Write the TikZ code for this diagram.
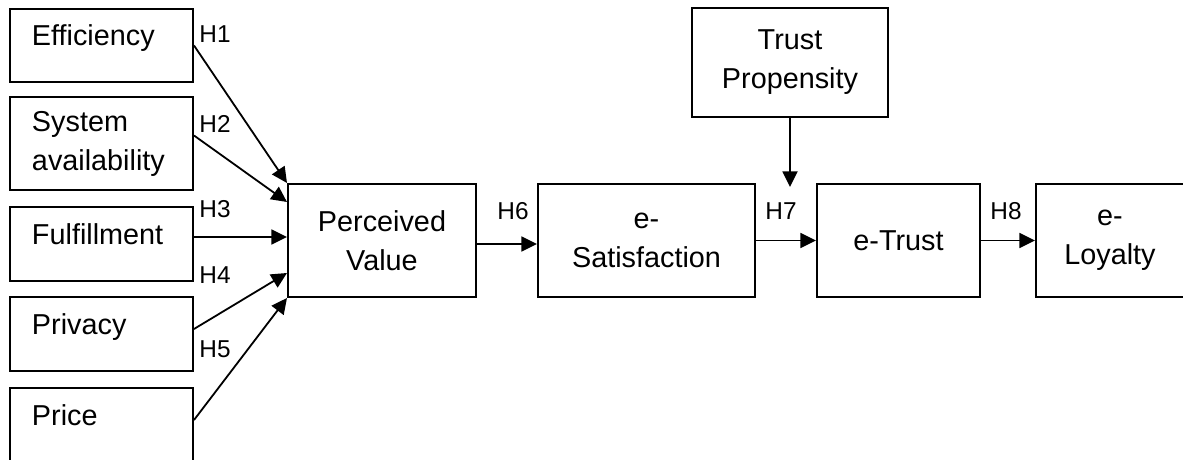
\documentclass[tikz,border=0pt]{standalone}
\usepackage{fontspec}
\setmainfont{Liberation Sans}
\usetikzlibrary{arrows.meta,positioning,calc}

\begin{document}
\begin{tikzpicture}[x=0.5pt,y=-0.5pt,
  box/.style={draw,line width=1pt,inner sep=0pt,font=\fontsize{14.4}{19.5}\selectfont},
  lbox/.style={box,text width=69.5pt,inner xsep=11pt,align=left},
  oneline/.style={text height=10pt,text depth=10pt},
  cbox/.style={box,align=center,minimum height=56.5pt},
  hyp/.style={font=\fontsize{12.2}{14}\selectfont,inner sep=0pt,anchor=base west},
  arr/.style={-{Triangle[length=7.8pt,width=7.5pt]},line width=0.9pt}]
\useasboundingbox (0,0) rectangle (1183,460);
% antecedents on the left
\node[lbox,oneline,minimum height=36.5pt] (eff) at (101.5,45.5) {Efficiency};
\node[lbox,minimum height=46.5pt] (sys) at (101.5,143.5) {System\\availability};
\node[lbox,oneline,minimum height=37pt] (ful) at (101.5,244) {Fulfillment};
\node[lbox,oneline,minimum height=37pt] (pri) at (101.5,334) {Privacy};
\node[lbox,oneline,minimum height=37pt] (prc) at (101.5,425) {Price};
% main chain
\node[cbox,minimum width=94pt] (pv) at (382,240.5) {Perceived\\Value};
\node[cbox,minimum width=108.5pt] (sat) at (646.5,240.5) {e-\\Satisfaction};
\node[cbox,minimum width=81.5pt] (tr) at (898.5,240.5) {e-Trust};
\node[cbox,minimum width=74pt] (loy) at (1110,240.5) {e-\\Loyalty};
\node[box,align=center,minimum width=98pt,minimum height=54.5pt] (tp) at (790,62.5) {Trust\\Propensity};
% paths
\draw[arr] (eff.east) -- (pv.north west);
\draw[arr] ($(sys.east)+(0,-8)$) -- ($(pv.north west)+(0,19)$);
\draw[arr] ($(ful.east)+(0,-7)$) -- ($(ful.east -| pv.west)+(0,-7)$);
\draw[arr] ($(pri.east)+(0,-5)$) -- ($(pv.south west)+(0,-25)$);
\draw[arr] ($(prc.east)+(0,-5)$) -- (pv.south west);
\draw[arr] ($(pv.east)+(0,3.5)$) -- ($(pv.east -| sat.west)+(0,3.5)$);
\draw[arr] (sat.east) -- (tr.west);
\draw[arr] (tr.east) -- (loy.west);
\coordinate (mod) at ($(tp.south |- tr.north)+(0,4)$);
\draw[arr] (tp.south) -- (mod);
% hypothesis labels
\node[hyp] (h1) at (199,43) {H1};
\node[hyp] (h2) at (199,133) {H2};
\node[hyp] (h3) at (199,217) {H3};
\node[hyp] (h4) at (199,283) {H4};
\node[hyp] (h5) at (199,357) {H5};
\node[hyp] (h6) at (497,219) {H6};
\node[hyp] (h7) at (765,220) {H7};
\node[hyp] (h8) at (990,219) {H8};
\end{tikzpicture}
\end{document}
